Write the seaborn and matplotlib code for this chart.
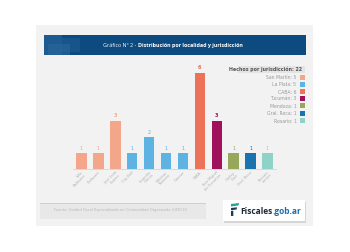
import matplotlib
matplotlib.use("Agg")
import matplotlib.pyplot as plt
from matplotlib.patches import Rectangle, Polygon
import seaborn as sns
import pandas as pd

# ---- data ----
localidades = ["Villa\nBallester", "Chilavert", "José León\nSuárez", "City Bell",
               "Lisandro\nOlmos", "Melchor\nRomero", "Gonnet", "CABA",
               "San Miguel\nde Tucumán", "Godoy\nCruz", "Gral. Roca", "Rosario\ncentro"]
valores = [1, 1, 3, 1, 2, 1, 1, 6, 3, 1, 1, 1]
jurisdiccion = ["San Martín", "San Martín", "San Martín", "La Plata", "La Plata", "La Plata",
                "La Plata", "CABA", "Tucumán", "Mendoza", "Gral. Roca", "Rosario"]
jur_nombres = ["San Martín", "La Plata", "CABA", "Tucumán", "Mendoza", "Gral. Roca", "Rosario"]
jur_totales = [5, 5, 6, 3, 1, 1, 1]
jur_colores = ["#f4a68b", "#5db4e3", "#ee7257", "#a0115c", "#97a85c", "#1a73ae", "#8ed2c8"]
total = 22
titulo_normal = "Gráfico N° 2 - "
titulo_bold = "Distribución por localidad y jurisdicción"
fuente = "Fuente: Unidad Fiscal Especializada en Criminalidad Organizada (UFECO)"

W, H = 350, 252
fig = plt.figure(figsize=(W / 100, H / 100), dpi=100)
fig.patch.set_facecolor("white")

def fx(x):
    return x / W

def fy(y):
    return 1 - y / H

def rect(x0, y0, x1, y1, color, z=0, **kw):
    fig.patches.append(Rectangle((fx(x0), fy(y1)), fx(x1) - fx(x0), fy(y0) - fy(y1),
                                 transform=fig.transFigure, facecolor=color,
                                 edgecolor="none", zorder=z, **kw))

# panel
rect(36, 25, 313, 226, "#f2f2f2", z=-5)
# header
rect(44, 35, 306, 55, "#0c4a80", z=-4)
rect(44, 35, 62, 55, "#1d5a90", z=-3)
rect(62, 38, 80, 52, "#17548a", z=-3)
rect(48, 44, 70, 55, "#2a679c", z=-3, alpha=0.6)
fig.text(fx(137.5), fy(45.2), titulo_normal, color="white", fontsize=3.9,
         ha="right", va="center", family="Open Sans", zorder=5)
fig.text(fx(138.2), fy(45.2), titulo_bold, color="white", fontsize=3.9,
         ha="left", va="center", family="Open Sans", fontweight="bold", zorder=5)

# bar chart
ax = fig.add_axes([fx(73), fy(169), fx(276) - fx(73), (169 - 64.7) / H])
ax.set_zorder(10)
ax.set_facecolor("none")
df = pd.DataFrame({"loc": localidades, "val": valores, "jur": jurisdiccion})
pal = dict(zip(jur_nombres, jur_colores))
sns.barplot(data=df, x="loc", y="val", hue="jur", palette=pal, dodge=False,
            width=0.62, legend=False, ax=ax, saturation=1)
ax.set_ylim(0, 6.5)
ax.set_xlim(-0.5, 11.5)
ax.set_yticks([])
ax.set_xlabel("")
ax.set_ylabel("")
for s in ["top", "right", "left"]:
    ax.spines[s].set_visible(False)
ax.spines["bottom"].set_color("#cfcfcf")
ax.spines["bottom"].set_linewidth(0.5)
ax.tick_params(axis="x", length=0, pad=1)
ax.set_xticks(range(len(localidades)))
ax.set_xticklabels(localidades, rotation=45, ha="right", rotation_mode="anchor",
                   fontsize=2.6, color="#b0b0b0", linespacing=0.9)
for i, (v, j) in enumerate(zip(valores, jurisdiccion)):
    ax.text(i, v + 0.15, str(v), ha="center", va="bottom", fontsize=3.6,
            color=pal[j], fontweight="bold" if v >= 3 else "normal")

# legend
rect(238, 65.5, 305, 72.5, "#e4e4e4", z=-2)
fig.text(fx(302), fy(69), f"Hechos por jurisdicción: {total}", fontsize=3.4,
         color="#555555", ha="right", va="center", fontweight="bold", zorder=5)
ys = [77.5, 85, 92, 99, 106, 113.5, 121]
for y, n, t, c in zip(ys, jur_nombres, jur_totales, jur_colores):
    fig.text(fx(296.5), fy(y), f"{n}: {t}", fontsize=3.3, color="#9a9a9a",
             ha="right", va="center", zorder=5)
    rect(299.5, y - 2.6, 304.5, y + 2.4, c, z=3)

# footer
rect(40, 203, 206, 219, "#e8e8e8", z=-2)
rect(40, 203, 206, 203.5, "#d0d0d0", z=-1)
rect(40, 218.5, 206, 219, "#d0d0d0", z=-1)
fig.text(fx(54), fy(210.5), fuente, fontsize=2.6, color="#b8b8b8",
         ha="left", va="center", zorder=5)

# logo box
fig.patches.append(Rectangle((fx(224), fy(222.5)), fx(82), 21 / H, transform=fig.transFigure,
                             facecolor="#d6d6d6", edgecolor="none", zorder=-2))
rect(223, 200, 305, 221, "white", z=-1)
fig.patches.append(Polygon([(fx(231), fy(204)), (fx(239), fy(203)), (fx(238.5), fy(205.5)),
                            (fx(231), fy(206.5))], closed=True, transform=fig.transFigure,
                           facecolor="#21a3a0", edgecolor="none", zorder=3))
fig.patches.append(Polygon([(fx(231), fy(208)), (fx(237), fy(207.3)), (fx(236.6), fy(209.5)),
                            (fx(231), fy(210.2))], closed=True, transform=fig.transFigure,
                           facecolor="#1d3a55", edgecolor="none", zorder=3))
fig.patches.append(Polygon([(fx(231), fy(211)), (fx(233.3), fy(210.7)), (fx(233.3), fy(216)),
                            (fx(231), fy(216))], closed=True, transform=fig.transFigure,
                           facecolor="#1d3a55", edgecolor="none", zorder=3))
t1 = fig.text(fx(240), fy(211), "Fiscales", fontsize=6.0, color="#1c2a3a",
              fontweight="bold", ha="left", va="center", family="Open Sans", zorder=5)
r = fig.canvas.get_renderer()
bb = t1.get_window_extent(renderer=r)
x_end = bb.x1 / fig.bbox.width
fig.text(x_end + 0.001, fy(211), ".gob.ar", fontsize=6.0, color="#1a6ea8",
         fontweight="bold", ha="left", va="center", family="Open Sans", zorder=5)

fig.savefig("out.png", dpi=100, facecolor="white")
